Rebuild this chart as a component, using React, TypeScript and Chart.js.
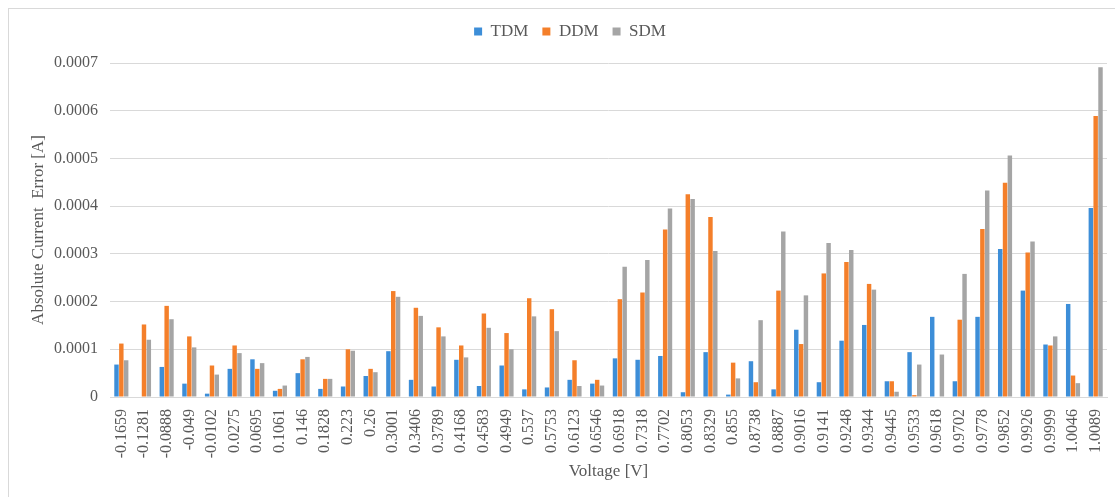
import React, { useEffect, useRef } from "react";
import { Chart, registerables } from "chart.js";

Chart.register(...registerables);

const voltages = [
  "-0.1659", "-0.1281", "-0.0888", "-0.049", "-0.0102", "0.0275", "0.0695", "0.1061", "0.146", "0.1828", "0.223",
  "0.26", "0.3001", "0.3406", "0.3789", "0.4168", "0.4583", "0.4949", "0.537", "0.5753", "0.6123", "0.6546",
  "0.6918", "0.7318", "0.7702", "0.8053", "0.8329", "0.855", "0.8738", "0.8887", "0.9016", "0.9141", "0.9248",
  "0.9344", "0.9445", "0.9533", "0.9618", "0.9702", "0.9778", "0.9852", "0.9926", "0.9999", "1.0046", "1.0089",
];

const tdm = [
  0.000068, 0, 0.000063, 0.000028, 0.000007, 0.000059, 0.000079, 0.000013, 0.00005, 0.000017, 0.000022,
  0.000044, 0.000096, 0.000036, 0.000022, 0.000078, 0.000023, 0.000066, 0.000016, 0.00002, 0.000036, 0.000028,
  0.000081, 0.000078, 0.000086, 0.00001, 0.000094, 0.000005, 0.000075, 0.000016, 0.000141, 0.000031, 0.000118,
  0.000151, 0.000033, 0.000094, 0.000168, 0.000033, 0.000168, 0.00031, 0.000223, 0.00011, 0.000195, 0.000396,
];

const ddm = [
  0.000112, 0.000152, 0.000191, 0.000127, 0.000066, 0.000108, 0.000059, 0.000017, 0.000079, 0.000038, 0.0001,
  0.000059, 0.000222, 0.000187, 0.000146, 0.000108, 0.000175, 0.000134, 0.000207, 0.000184, 0.000077, 0.000036,
  0.000205, 0.000219, 0.000351, 0.000425, 0.000377, 0.000072, 0.000031, 0.000223, 0.000111, 0.000259, 0.000283,
  0.000237, 0.000033, 0.000004, 0.000001, 0.000162, 0.000352, 0.000449, 0.000303, 0.000108, 0.000045, 0.000589,
];

const sdm = [
  0.000077, 0.00012, 0.000163, 0.000104, 0.000047, 0.000092, 0.000071, 0.000024, 0.000084, 0.000038, 0.000097,
  0.000052, 0.00021, 0.00017, 0.000127, 0.000083, 0.000145, 0.0001, 0.000169, 0.000138, 0.000023, 0.000024,
  0.000273, 0.000287, 0.000395, 0.000415, 0.000306, 0.000039, 0.000161, 0.000347, 0.000213, 0.000323, 0.000308,
  0.000225, 0.000011, 0.000068, 0.000089, 0.000258, 0.000433, 0.000506, 0.000326, 0.000127, 0.000029, 0.000691,
];

const seriesNames = ["TDM", "DDM", "SDM"];
const seriesColors = ["#3d8ed8", "#f47f2a", "#a5a5a5"];

const FONT = "'Liberation Serif', 'Times New Roman', serif";
const TEXT = "#595959";
const GRID = "#d9d9d9";

export default function App() {
  const canvasRef = useRef<HTMLCanvasElement | null>(null);

  useEffect(() => {
    if (!canvasRef.current) return;
    const legendSpacer = {
      id: "legendSpacer",
      beforeInit(chart: any) {
        const lg = chart.legend;
        if (lg) {
          const orig = lg.fit;
          lg.fit = function () {
            orig.call(this);
            this.height += 13;
          };
        }
      },
      afterLayout(chart: any) {
        if (chart.legend) chart.legend.left += 24;
      },
    };
    const chart = new Chart(canvasRef.current, {
      type: "bar",
      data: {
        labels: voltages,
        datasets: [tdm, ddm, sdm].map((d, i) => ({
          label: seriesNames[i],
          data: d,
          backgroundColor: seriesColors[i],
          borderWidth: 0,
          categoryPercentage: 0.64,
          barPercentage: 0.92,
        })),
      },
      options: {
        responsive: false,
        animation: false,
        layout: { padding: { left: 0, right: 8, top: 0, bottom: 0 } },
        plugins: {
          tooltip: { enabled: false },
          legend: {
            position: "top",
            labels: {
              boxWidth: 8,
              boxHeight: 8,
              padding: 14,
              color: TEXT,
              font: { family: FONT, size: 17 },
            },
          },
        },
        scales: {
          x: {
            grid: { display: false, drawTicks: false },
            border: { display: true, color: GRID, width: 1 },
            ticks: {
              autoSkip: false,
              minRotation: 90,
              maxRotation: 90,
              padding: 12,
              color: TEXT,
              font: { family: FONT, size: 16 },
            },
            title: {
              display: true,
              text: "Voltage [V]",
              color: TEXT,
              font: { family: FONT, size: 17 },
              padding: { top: 0, bottom: 15 },
            },
            afterFit(scale: any) {
              scale.height = 100;
              scale.paddingLeft = 0;
              scale.paddingRight = 0;
            },
          },
          y: {
            min: 0,
            max: 0.0007,
            ticks: {
              stepSize: 0.0001,
              padding: 12,
              color: TEXT,
              font: { family: FONT, size: 16 },
              callback: (v: any) => (Number(v) === 0 ? "0" : Number(v).toFixed(4)),
            },
            grid: { color: GRID, lineWidth: 1, drawTicks: false },
            border: { display: false },
            title: {
              display: true,
              text: "Absolute Current  Error [A]",
              color: TEXT,
              font: { family: FONT, size: 17 },
              padding: { top: 19, bottom: 0 },
            },
            afterFit(scale: any) {
              scale.width = 101;
            },
          },
        },
      },
      plugins: [legendSpacer],
    } as any);
    return () => chart.destroy();
  }, []);

  return (
    <div
      style={{
        position: "fixed",
        left: 0,
        top: 0,
        width: 1115,
        height: 497,
        background: "#ffffff",
        overflow: "hidden",
      }}
    >
      <div
        style={{
          position: "absolute",
          left: 8,
          top: 8,
          width: 1120,
          height: 500,
          border: "1px solid #d9d9d9",
          boxSizing: "border-box",
        }}
      />
      <canvas
        ref={canvasRef}
        width={1106}
        height={488}
        style={{ position: "absolute", left: 9, top: 9, width: 1106, height: 488 }}
      />
    </div>
  );
}
